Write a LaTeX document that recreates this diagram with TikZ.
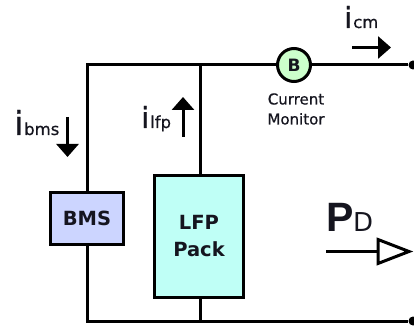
\documentclass[tikz,border=0pt]{standalone}
\usepackage{fontspec}
\setmainfont{DejaVu Sans}
\newfontfamily\heavy[FakeBold=0.6]{DejaVu Sans}
\newfontfamily\powerfont{Liberation Sans}
\usetikzlibrary{arrows.meta}
\definecolor{bmsfill}{HTML}{CCD5FF}
\definecolor{lfpfill}{HTML}{BFFFF6}
\definecolor{monfill}{HTML}{CCFFCC}
\definecolor{labelink}{HTML}{15151F}
\tikzset{
  x=1pt,y=-1pt,
  wire/.style={line width=3pt,black},
  boxed/.style={draw=black,line width=3pt,inner sep=0pt,align=center,font=\bfseries\fontsize{19.5}{27}\selectfont,text=labelink},
  cur/.style={line width=3pt,-{Triangle[length=13pt,width=22pt]}},
  lab/.style={inner sep=0pt,anchor=base west,text=labelink},
  sub/.style={font=\heavy\fontsize{16.5}{16.5}\selectfont},
  dot/.style={circle,fill=black,inner sep=0pt,minimum size=9pt}
}
\begin{document}
\begin{tikzpicture}
\useasboundingbox (0,0) rectangle (414,328);
\coordinate (tl) at (87,65);
\coordinate (bl) at (87,321);
\coordinate (tm) at (200,65);
\coordinate (bm) at (200,321);
\node[dot] (tr) at (413,65) {};
\node[dot] (br) at (413,321) {};
\node[boxed,fill=bmsfill,minimum width=73pt,minimum height=52pt] (bms) at (87,218.5) {BMS};
\node[boxed,fill=lfpfill,minimum width=89pt,minimum height=122pt] (lfp) at (199,236.5) {LFP\\Pack};
\node[circle,draw=black,line width=3pt,fill=monfill,minimum size=33pt,inner sep=0pt,font=\bfseries\fontsize{17}{17}\selectfont,text=labelink] (mon) at (294,65) {B};
\draw[wire] (bms.north) -- (tl) -- (mon.west);
\draw[wire] (mon.east) -- (tr);
\draw[wire] (bms.south) -- (bl) -- (br);
\draw[wire] (lfp.north -| tm) -- (tm);
\draw[wire] (lfp.south -| bm) -- (bm);
\node[inner sep=0pt,align=center,font=\heavy\fontsize{15}{20}\selectfont,text=labelink] (monlab) at (296,109) {Current\\Monitor};
% currents
\node[lab,font=\heavy\fontsize{33}{33}\selectfont] (i1) at (14,135) {i};
\node[lab,sub] (s1) at (24,135) {bms};
\coordinate (a1s) at (67.5,117); \coordinate (a1e) at (67.5,157);
\draw[cur] (a1s) -- (a1e);
\node[lab,font=\heavy\fontsize{29}{29}\selectfont] (i2) at (141,128) {i};
\node[lab,sub] (s2) at (150,128) {lfp};
\coordinate (a2s) at (183,137); \coordinate (a2e) at (183,97);
\draw[cur] (a2s) -- (a2e);
\node[lab,font=\heavy\fontsize{29}{29}\selectfont] (i3) at (344,28) {i};
\node[lab,sub] (s3) at (353,28) {cm};
\coordinate (a3s) at (352,47.5); \coordinate (a3e) at (391,47.5);
\draw[cur] (a3s) -- (a3e);
% power
\node[lab,font=\powerfont\bfseries\fontsize{41}{41}\selectfont] (p) at (326,232) {P};
\node[lab,font=\fontsize{26}{26}\selectfont] (d) at (353,232) {D};
\coordinate (ps) at (326,251.5); \coordinate (pm) at (378,251.5);
\draw[line width=2.4pt] (ps) -- (pm);
\draw[line width=3pt,fill=white,line join=miter] (pm) ++(0,-12) -- ++(31,12) -- ++(-31,12) -- cycle;
\end{tikzpicture}
\end{document}
